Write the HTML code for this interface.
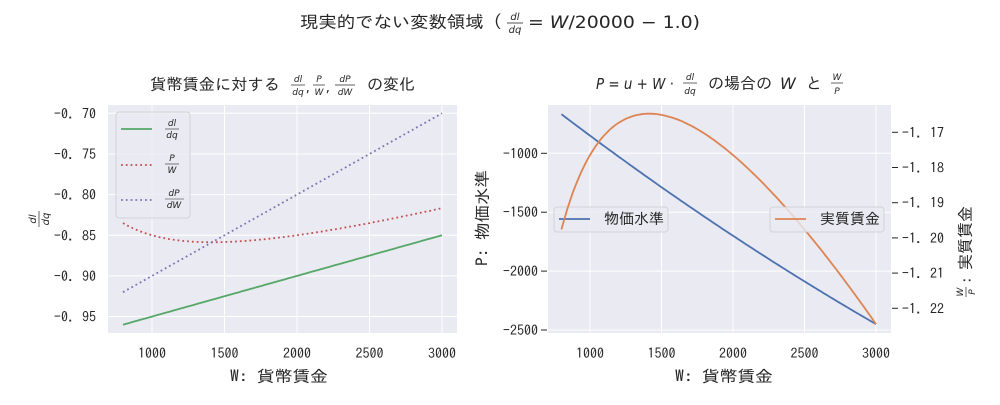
<!DOCTYPE html>
<html><head><meta charset="utf-8"><style>
body{margin:0;background:#fff;}
svg text{font-family:"IPAGothic","Liberation Sans","Noto Sans CJK JP",sans-serif;fill:#262626;}
.m{font-family:"DejaVu Sans","Liberation Sans",sans-serif;font-style:italic;}
.t{font-size:14px;}
</style></head><body>
<svg id="s" width="1000" height="400" xmlns="http://www.w3.org/2000/svg">
<rect width="1000" height="400" fill="#fff"/>
<!-- suptitle -->
<text x="300" y="28" font-size="17" textLength="202" lengthAdjust="spacingAndGlyphs">現実的でない変数領域 (</text>
<text class="m" x="515" y="20" font-size="10" text-anchor="middle">dl</text>
<line x1="507" y1="23" x2="523" y2="23" stroke="#262626" stroke-width="0.8"/>
<text class="m" x="515" y="33" font-size="10" text-anchor="middle">dq</text>
<text class="m" x="528" y="28" font-size="17" style="font-style:normal" textLength="172" lengthAdjust="spacingAndGlyphs">= <tspan font-style="italic">W</tspan>/20000 − 1.0)</text>

<!-- LEFT -->
<rect x="108" y="105" width="349" height="228" fill="#EAEAF2"/>
<g id="lg" stroke="#fff" stroke-width="1"></g>
<g id="lp"></g>
<text x="150" y="90" font-size="16" textLength="130" lengthAdjust="spacingAndGlyphs">貨幣賃金に対する</text>
<text class="m" x="298" y="82" font-size="9" text-anchor="middle">dl</text><line x1="291" y1="85" x2="305" y2="85" stroke="#262626" stroke-width="0.7"/><text class="m" x="298" y="95" font-size="9" text-anchor="middle">dq</text>
<text x="306" y="92" font-size="12">,</text>
<text class="m" x="319" y="82" font-size="9" text-anchor="middle">P</text><line x1="313" y1="85" x2="325" y2="85" stroke="#262626" stroke-width="0.7"/><text class="m" x="319" y="95" font-size="9" text-anchor="middle">W</text>
<text x="326" y="92" font-size="12">,</text>
<text class="m" x="345" y="82" font-size="9" text-anchor="middle">dP</text><line x1="335" y1="85" x2="355" y2="85" stroke="#262626" stroke-width="0.7"/><text class="m" x="345" y="95" font-size="9" text-anchor="middle">dW</text>
<text x="367" y="90" font-size="16" textLength="48" lengthAdjust="spacingAndGlyphs">の変化</text>
<text x="230" y="382" font-size="16" textLength="98" lengthAdjust="spacingAndGlyphs">W: 貨幣賃金</text>
<g transform="translate(40,219) rotate(-90)"><text class="m" x="0" y="-4" font-size="10" text-anchor="middle">dl</text><line x1="-8" y1="-1" x2="8" y2="-1" stroke="#262626" stroke-width="0.7"/><text class="m" x="0" y="9" font-size="10" text-anchor="middle">dq</text></g>
<!-- left legend -->
<rect x="116" y="112" width="74" height="106" rx="3" fill="#EAEAF2" stroke="#ccc" stroke-width="0.8" fill-opacity="0.8"/>
<line x1="121" y1="129" x2="152" y2="129" stroke="#55A868" stroke-width="1.8"/>
<text class="m" x="172" y="126" font-size="9" text-anchor="middle">dl</text><line x1="165" y1="129" x2="179" y2="129" stroke="#262626" stroke-width="0.6"/><text class="m" x="172" y="138" font-size="9" text-anchor="middle">dq</text>
<line x1="121" y1="165" x2="152" y2="165" stroke="#C44E52" stroke-width="1.8" stroke-dasharray="1.8,3"/>
<text class="m" x="172" y="161" font-size="9" text-anchor="middle">P</text><line x1="165" y1="164" x2="179" y2="164" stroke="#262626" stroke-width="0.6"/><text class="m" x="172" y="173" font-size="9" text-anchor="middle">W</text>
<line x1="121" y1="200" x2="152" y2="200" stroke="#8172B2" stroke-width="1.8" stroke-dasharray="1.8,3"/>
<text class="m" x="174" y="196" font-size="9" text-anchor="middle">dP</text><line x1="165" y1="199" x2="184" y2="199" stroke="#262626" stroke-width="0.6"/><text class="m" x="174" y="208" font-size="9" text-anchor="middle">dW</text>

<!-- RIGHT -->
<rect x="548" y="105" width="343" height="228" fill="#EAEAF2"/>
<g id="rg" stroke="#fff" stroke-width="1"></g>
<g id="rp"></g>
<text x="596" y="89" font-size="15" class="m" style="font-style:normal" textLength="78" lengthAdjust="spacingAndGlyphs"><tspan font-style="italic">P</tspan> = <tspan font-style="italic">u</tspan> + <tspan font-style="italic">W</tspan> ·</text>
<text class="m" x="690" y="80" font-size="9" text-anchor="middle">dl</text><line x1="683" y1="83" x2="697" y2="83" stroke="#262626" stroke-width="0.7"/><text class="m" x="690" y="94" font-size="9" text-anchor="middle">dq</text>
<text x="708" y="89" font-size="16" textLength="64" lengthAdjust="spacingAndGlyphs">の場合の</text>
<text class="m" x="780" y="89" font-size="16">W</text>
<text x="806" y="89" font-size="16">と</text>
<text class="m" x="837" y="80" font-size="9" text-anchor="middle">W</text><line x1="831" y1="83" x2="843" y2="83" stroke="#262626" stroke-width="0.7"/><text class="m" x="837" y="94" font-size="9" text-anchor="middle">P</text>
<text x="675" y="382" font-size="16" textLength="98" lengthAdjust="spacingAndGlyphs">W: 貨幣賃金</text>
<text transform="translate(488,266) rotate(-90)" font-size="16" textLength="96" lengthAdjust="spacingAndGlyphs">P: 物価水準</text>
<g transform="translate(966,270) rotate(-90)"><text x="0" y="5" font-size="16" textLength="64" lengthAdjust="spacingAndGlyphs">実質賃金</text><text class="m" x="-22" y="-3" font-size="9" text-anchor="middle">W</text><line x1="-27" y1="0" x2="-17" y2="0" stroke="#262626" stroke-width="0.7"/><text class="m" x="-22" y="9" font-size="9" text-anchor="middle">P</text><text x="-14" y="5" font-size="15">:</text></g>
<!-- right legend 1 (ax1) -->
<rect x="554" y="207" width="114" height="25" rx="3" fill="#EAEAF2" fill-opacity="0.8" stroke="#ccc" stroke-width="0.8"/>
<line x1="559" y1="219" x2="590" y2="219" stroke="#4C72B0" stroke-width="1.8"/>
<text x="604" y="224" font-size="15">物価水準</text>
<g id="rp2"></g>
<rect x="770" y="207" width="114" height="25" rx="3" fill="#EAEAF2" fill-opacity="0.8" stroke="#ccc" stroke-width="0.8"/>
<line x1="775" y1="219" x2="806" y2="219" stroke="#DD8452" stroke-width="1.8"/>
<text x="820" y="224" font-size="15">実質賃金</text>
</svg>
<script>
var NS="http://www.w3.org/2000/svg";
function el(p,t,a,txt){var e=document.createElementNS(NS,t);for(var k in a)e.setAttribute(k,a[k]);if(txt!==undefined)e.textContent=txt;document.getElementById(p).appendChild(e);return e;}
function lx(w){return 152+(w-1000)*0.145;}
function ly(v){return 113.3+(-0.7-v)*813;}
[1000,1500,2000,2500,3000].forEach(function(w){el("lg","line",{x1:lx(w),x2:lx(w),y1:105,y2:333});el("lp","text",{x:lx(w),y:358,"text-anchor":"middle","class":"t"},String(w));});
[-0.70,-0.75,-0.80,-0.85,-0.90,-0.95].forEach(function(v){el("lg","line",{x1:108,x2:457,y1:ly(v),y2:ly(v)});el("lp","text",{x:96,y:ly(v)+5,"text-anchor":"end","class":"t"},"−"+(-v).toFixed(2).replace(".",". "));});
function path(fx,fy,f){var d="";for(var w=800;w<=3000;w+=20){d+=(w==800?"M":"L")+fx(w).toFixed(1)+","+fy(f(w)).toFixed(1);}return d;}
el("lp","path",{d:path(lx,ly,function(w){return w/20000-1}),fill:"none",stroke:"#55A868","stroke-width":1.8});
el("lp","path",{d:path(lx,ly,function(w){return 100/w+w/20000-1}),fill:"none",stroke:"#C44E52","stroke-width":1.8,"stroke-dasharray":"1.8,3"});
el("lp","path",{d:path(lx,ly,function(w){return w/10000-1}),fill:"none",stroke:"#8172B2","stroke-width":1.8,"stroke-dasharray":"1.8,3"});
function rx(w){return 590+(w-1000)*0.143;}
function ryl(p){return 153.3+(-1000-p)*0.1178;}
function ryr(r){return 132.3+(-1.17-r)*3520;}
[1000,1500,2000,2500,3000].forEach(function(w){el("rg","line",{x1:rx(w),x2:rx(w),y1:105,y2:333});el("rp","text",{x:rx(w),y:358,"text-anchor":"middle","class":"t"},String(w));});
[-1000,-1500,-2000,-2500].forEach(function(p){el("rg","line",{x1:548,x2:891,y1:ryl(p),y2:ryl(p)});el("rp","line",{x1:541,x2:547,y1:ryl(p),y2:ryl(p),stroke:"#262626","stroke-width":1});el("rp","text",{x:538,y:ryl(p)+5,"text-anchor":"end","class":"t"},"−"+(-p));});
[-1.17,-1.18,-1.19,-1.20,-1.21,-1.22].forEach(function(r){el("rp","line",{x1:892,x2:898,y1:ryr(r),y2:ryr(r),stroke:"#262626","stroke-width":1});el("rp","text",{x:902,y:ryr(r)+5,"class":"t"},"−"+(-r).toFixed(2).replace(".",". "));});
el("rp","path",{d:path(rx,ryl,function(w){return 100+w*w/20000-w}),fill:"none",stroke:"#4C72B0","stroke-width":1.8});
el("rp2","path",{d:path(rx,ryr,function(w){return w/(100+w*w/20000-w)}),fill:"none",stroke:"#DD8452","stroke-width":1.8});
</script>
</body></html>
